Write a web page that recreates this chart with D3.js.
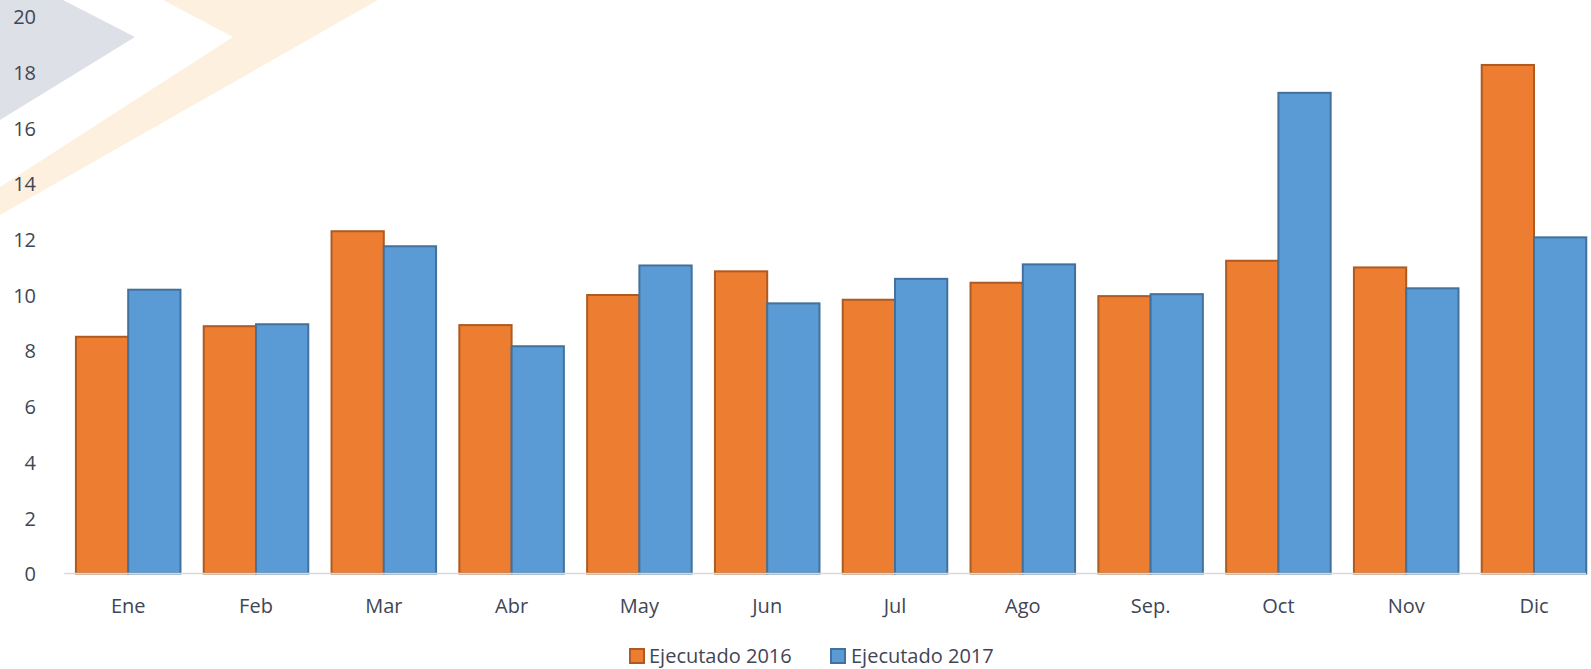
<!DOCTYPE html>
<html>
<head>
<meta charset="utf-8">
<script src="https://cdn.jsdelivr.net/npm/d3@7/dist/d3.min.js"></script>
<style>
  html, body { margin: 0; padding: 0; background: #ffffff; }
  svg { display: block; }
  text { font-family: "Open Sans", "Noto Sans", sans-serif; }
</style>
</head>
<body>
<svg id="chart" width="1591" height="669"></svg>
<script>
const categories = ["Ene", "Feb", "Mar", "Abr", "May", "Jun", "Jul", "Ago", "Sep.", "Oct", "Nov", "Dic"];
const seriesNames = ["Ejecutado 2016", "Ejecutado 2017"];
const values2016 = [8.50, 8.88, 12.29, 8.92, 10.00, 10.85, 9.83, 10.44, 9.96, 11.23, 10.99, 18.26];
const values2017 = [10.19, 8.95, 11.75, 8.16, 11.06, 9.70, 10.58, 11.10, 10.03, 17.26, 10.24, 12.07];
const yTicks = [0, 2, 4, 6, 8, 10, 12, 14, 16, 18, 20];

const fills = ["#ED7D31", "#5B9BD5"];
const strokes = ["#AE5A21", "#41719C"];
const textColor = "#3F4656";

const svg = d3.select("#chart");

// background watermark chevrons
const wm = svg.append("g");
wm.append("polygon")
  .attr("points", [[0,0],[63,0],[135,37],[0,120]].map(p => p.join(",")).join(" "))
  .attr("fill", "#DDE0E6");
wm.append("polygon")
  .attr("points", [[163,0],[378,0],[0,215],[0,187],[233,37]].map(p => p.join(",")).join(" "))
  .attr("fill", "#FDF0DF");

const x0 = d3.scaleBand()
  .domain(categories)
  .range([64.3, 64.3 + 12 * 127.8])
  .paddingInner(0.182)
  .paddingOuter(0.091);

const x1 = d3.scaleBand()
  .domain(seriesNames)
  .range([0, x0.bandwidth()]);

const y = d3.scaleLinear().domain([0, 20]).range([573.5, 16.5]);

const data = categories.map((c, i) => ({ cat: c, vals: [values2016[i], values2017[i]] }));

// bars
const groups = svg.append("g").selectAll("g")
  .data(data).join("g")
  .attr("transform", d => `translate(${x0(d.cat)},0)`);

groups.selectAll("rect")
  .data(d => d.vals.map((v, k) => ({ v, k })))
  .join("rect")
  .attr("x", d => x1(seriesNames[d.k]))
  .attr("y", d => y(d.v))
  .attr("width", x1.bandwidth())
  .attr("height", d => y(0) - y(d.v))
  .attr("fill", d => fills[d.k])
  .attr("stroke", d => strokes[d.k])
  .attr("stroke-width", 2);

// x axis line
svg.append("line")
  .attr("x1", 64.3).attr("x2", 1586)
  .attr("y1", y(0)).attr("y2", y(0))
  .attr("stroke", "#D9D9D9").attr("stroke-width", 1.5);

// y axis labels
const yAxis = d3.axisLeft(y).tickValues(yTicks).tickSize(0).tickPadding(0);
const yg = svg.append("g").attr("transform", "translate(36,0)").call(yAxis);
yg.select(".domain").remove();
yg.selectAll("text")
  .attr("fill", textColor)
  .style("font-size", "20px")
  .style("font-family", "'Open Sans', sans-serif")
  .attr("dy", "0.36em");

// x axis labels
const xAxis = d3.axisBottom(x0).tickSize(0).tickPadding(0);
const xg = svg.append("g").attr("transform", `translate(0,${y(0)})`).call(xAxis);
xg.select(".domain").remove();
xg.selectAll("text")
  .attr("fill", textColor)
  .style("font-size", "20px")
  .style("font-family", "'Open Sans', sans-serif")
  .attr("y", 39)
  .attr("dy", 0);

// legend
const legendItems = [
  { name: seriesNames[0], sx: 629, tx: 649 },
  { name: seriesNames[1], sx: 830, tx: 851 }
];
const lg = svg.append("g");
legendItems.forEach((it, k) => {
  lg.append("rect")
    .attr("x", it.sx + 1).attr("y", 649)
    .attr("width", 14).attr("height", 14)
    .attr("fill", fills[k]).attr("stroke", strokes[k]).attr("stroke-width", 2);
  lg.append("text")
    .attr("x", it.tx).attr("y", 662.5)
    .attr("fill", textColor)
    .style("font-size", "20px")
    .text(it.name);
});
</script>
</body>
</html>
